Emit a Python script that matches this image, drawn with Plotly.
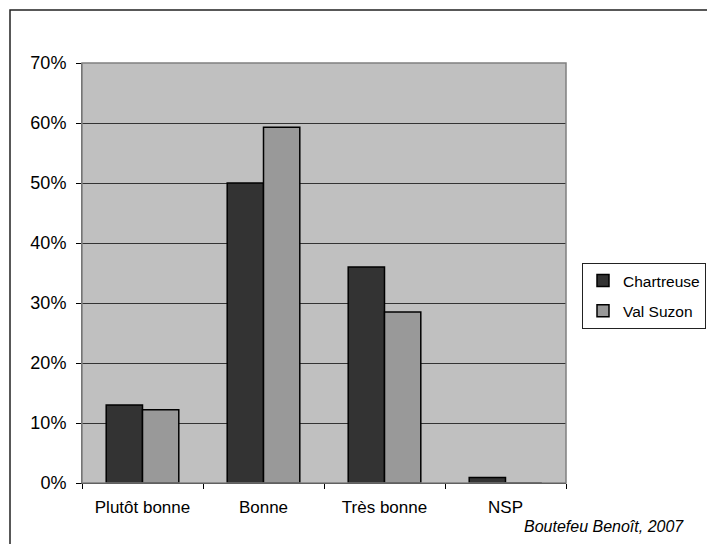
import plotly.graph_objects as go

# data
categories = ["Plutôt bonne", "Bonne", "Très bonne", "NSP"]
chartreuse = [13.0, 50.0, 36.0, 0.9]
val_suzon = [12.2, 59.3, 28.5, 0.0]
y_ticks = [0, 10, 20, 30, 40, 50, 60, 70]
y_tick_labels = [f"{v}%" for v in y_ticks]

W, H = 707, 544
L, R, T, B = 82, 566, 63, 483  # plot area in px


def px_x(x):
    return (x - L) / (R - L)


def px_y(y):
    return (B - y) / (B - T)


fig = go.Figure()
fig.add_trace(go.Bar(
    x=categories, y=chartreuse, name="Chartreuse", legendgroup="a",
    marker=dict(color="#333333", line=dict(color="#000000", width=1.5)),
))
fig.add_trace(go.Bar(
    x=categories, y=val_suzon, name="Val Suzon", legendgroup="b",
    marker=dict(color="#999999", line=dict(color="#000000", width=1.5)),
))

font = "Arial, Liberation Sans, sans-serif"

fig.update_layout(
    width=W, height=H,
    margin=dict(l=L, r=W - R, t=T, b=H - B),
    paper_bgcolor="white",
    plot_bgcolor="#C0C0C0",
    barmode="group",
    bargap=0.4,
    bargroupgap=0,
    font=dict(family=font, size=17.5, color="black"),
    showlegend=True,
    legend=dict(
        xref="container", yref="container",
        x=582 / W, y=1 - 263 / H, xanchor="left", yanchor="top",
        bordercolor="#222222", borderwidth=1, bgcolor="white",
        font=dict(size=15.5), traceorder="grouped", tracegroupgap=7,
        itemwidth=30,
    ),
    xaxis=dict(
        showgrid=False, showline=True, linecolor="black", linewidth=1,
        ticks="outside", tickson="boundaries", ticklen=5, tickcolor="black",
        tickfont=dict(size=17), ticklabelstandoff=9,
    ),
    yaxis=dict(
        range=[0, 70], tickmode="array", tickvals=y_ticks, ticktext=y_tick_labels,
        showgrid=True, gridcolor="#333333", gridwidth=1,
        showline=True, linecolor="#555555", linewidth=1,
        ticks="outside", ticklen=5, tickcolor="black",
        tickfont=dict(size=18), zeroline=False, ticklabelstandoff=6,
    ),
    shapes=[
        # plot area border (gray)
        dict(type="rect", xref="paper", yref="paper", x0=0, x1=1, y0=0, y1=1,
             line=dict(color="#808080", width=1.5), layer="above"),
        # outer chart frame
        dict(type="rect", xref="paper", yref="paper",
             x0=px_x(10), x1=px_x(730), y0=px_y(560), y1=px_y(10),
             line=dict(color="#222222", width=1.5)),
    ],
    annotations=[
        dict(text="<i>Boutefeu Benoît, 2007</i>", xref="paper", yref="paper",
             x=px_x(686), y=px_y(526), xanchor="right", yanchor="middle",
             showarrow=False, font=dict(size=16, color="black")),
    ],
)

fig.write_html(
    "out.html",
    config={"displayModeBar": False},
    post_script="document.body.style.margin='0';document.body.style.overflow='hidden';",
)
